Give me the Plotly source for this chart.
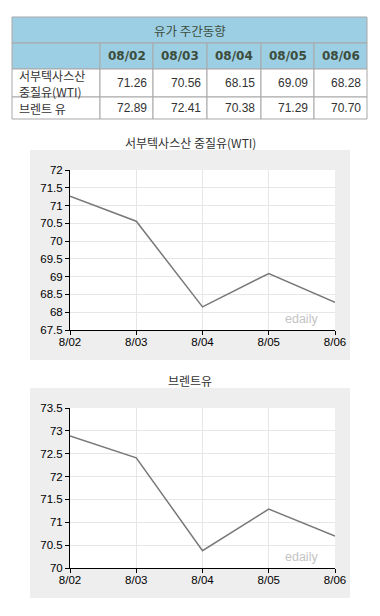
import plotly.graph_objects as go

# ---------------- data ----------------
dates = ["08/02", "08/03", "08/04", "08/05", "08/06"]
axis_dates = ["8/02", "8/03", "8/04", "8/05", "8/06"]
wti = [71.26, 70.56, 68.15, 69.09, 68.28]
brent = [72.89, 72.41, 70.38, 71.29, 70.70]
row_labels = ["서부텍사스산<br>중질유(WTI)", "브렌트 유"]
table_title = "유가 주간동향"
chart1_title = "서부텍사스산 중질유(WTI)"
chart2_title = "브렌트유"
watermark = "edaily"

# ---------------- geometry helpers (page pixels -> paper) ----------------
OFF = 8                     # default body margin of the html page
W, H = 380 - OFF, 616 - OFF

def fx(px):
    return (px - OFF) / W

def fy(py):
    return 1 - (py - OFF) / H

KFONT = "Noto Sans CJK KR, Liberation Sans, sans-serif"
NFONT = "Liberation Sans, Arial, sans-serif"
BFONT = "DejaVu Sans, Verdana, sans-serif"
HEAD_BG = "#9ccfe3"
BORDER = "#a8a8a8"

fig = go.Figure()

# ---------------- line charts ----------------
fig.add_trace(go.Scatter(x=axis_dates, y=wti, mode="lines",
                         line=dict(color="#787878", width=1.5),
                         xaxis="x", yaxis="y", showlegend=False,
                         hoverinfo="x+y"))
fig.add_trace(go.Scatter(x=axis_dates, y=brent, mode="lines",
                         line=dict(color="#787878", width=1.5),
                         xaxis="x2", yaxis="y2", showlegend=False,
                         hoverinfo="x+y"))

ax_common = dict(
    showline=True, linecolor="black", linewidth=1,
    ticks="outside", tickcolor="black", ticklen=4,
    showgrid=True, gridcolor="#e6e6e6", gridwidth=1,
    tickfont=dict(family=NFONT, size=11.5, color="black"),
    zeroline=False, fixedrange=True, automargin=False,
)

shapes = [
    dict(type="rect", xref="paper", yref="paper",
         x0=fx(30), x1=fx(350), y0=fy(360), y1=fy(150),
         fillcolor="#eeeeee", line=dict(width=0), layer="below"),
    dict(type="rect", xref="paper", yref="paper",
         x0=fx(30), x1=fx(350), y0=fy(598), y1=fy(388),
         fillcolor="#eeeeee", line=dict(width=0), layer="below"),
    dict(type="rect", xref="x domain", yref="y domain",
         x0=0, x1=1, y0=0, y1=1,
         fillcolor="white", line=dict(width=0), layer="below"),
    dict(type="rect", xref="x2 domain", yref="y2 domain",
         x0=0, x1=1, y0=0, y1=1,
         fillcolor="white", line=dict(width=0), layer="below"),
]
annotations = []

# ---------------- table (drawn as cells) ----------------
col_edges = [12, 100, 153, 207, 261, 314, 367]
row_edges = [17, 43, 69, 97, 119]

def cell(x0, x1, y0, y1, fill):
    shapes.append(dict(type="rect", xref="paper", yref="paper",
                       x0=fx(x0), x1=fx(x1), y0=fy(y1), y1=fy(y0),
                       fillcolor=fill, line=dict(color=BORDER, width=1),
                       layer="above"))

def text(t, x, y, font, xanchor="center"):
    annotations.append(dict(text=t, xref="paper", yref="paper",
                            x=fx(x), y=fy(y), xanchor=xanchor, yanchor="middle",
                            align="left" if xanchor == "left" else "center",
                            showarrow=False, font=font))

# title row
cell(col_edges[0], col_edges[-1], row_edges[0], row_edges[1], HEAD_BG)
text(table_title, (col_edges[0] + col_edges[-1]) / 2, (row_edges[0] + row_edges[1]) / 2 + 1,
     dict(family=KFONT, size=12.5, color="#3d4d3d"))

# header row
for i in range(len(col_edges) - 1):
    cell(col_edges[i], col_edges[i + 1], row_edges[1], row_edges[2], HEAD_BG)
for i, d in enumerate(dates):
    text(f"<b>{d}</b>", (col_edges[i + 1] + col_edges[i + 2]) / 2,
         (row_edges[1] + row_edges[2]) / 2,
         dict(family=BFONT, size=12, color="#3d4d3d"))

# data rows
for r, (label, series) in enumerate(zip(row_labels, [wti, brent])):
    y0, y1 = row_edges[r + 2], row_edges[r + 3]
    for i in range(len(col_edges) - 1):
        cell(col_edges[i], col_edges[i + 1], y0, y1, "white")
    text(label, col_edges[0] + 5, (y0 + y1) / 2 + 0.5,
         dict(family=KFONT, size=12, color="#333333"), xanchor="left")
    for i, v in enumerate(series):
        text(f"{v:.2f}", col_edges[i + 2] - 4, (y0 + y1) / 2,
             dict(family=NFONT, size=12, color="#333333"), xanchor="right")

# chart titles and watermark
text(chart1_title, 190, 142, dict(family=KFONT, size=12, color="#333333"))
text(chart2_title, 190, 380, dict(family=KFONT, size=12, color="#333333"))
text(watermark, 301, 319, dict(family=NFONT, size=12.5, color="#c4c4c4"))
text(watermark, 301, 557, dict(family=NFONT, size=12.5, color="#c4c4c4"))

fig.update_layout(
    width=W, height=H,
    margin=dict(l=0, r=0, t=0, b=0, pad=0, autoexpand=False),
    paper_bgcolor="white",
    plot_bgcolor="white",
    showlegend=False,
    xaxis=dict(domain=[fx(70), fx(335)], anchor="y", type="category",
               range=[0, 4], ticklabelstandoff=-3, **ax_common),
    yaxis=dict(domain=[fy(330), fy(170)], anchor="x",
               range=[67.5, 72], dtick=0.5, tick0=67.5, **ax_common),
    xaxis2=dict(domain=[fx(70), fx(335)], anchor="y2", type="category",
                range=[0, 4], ticklabelstandoff=-3, **ax_common),
    yaxis2=dict(domain=[fy(568), fy(408)], anchor="x2",
                range=[70, 73.5], dtick=0.5, tick0=70, **ax_common),
    shapes=shapes,
    annotations=annotations,
)

fig.write_html("out.html")
